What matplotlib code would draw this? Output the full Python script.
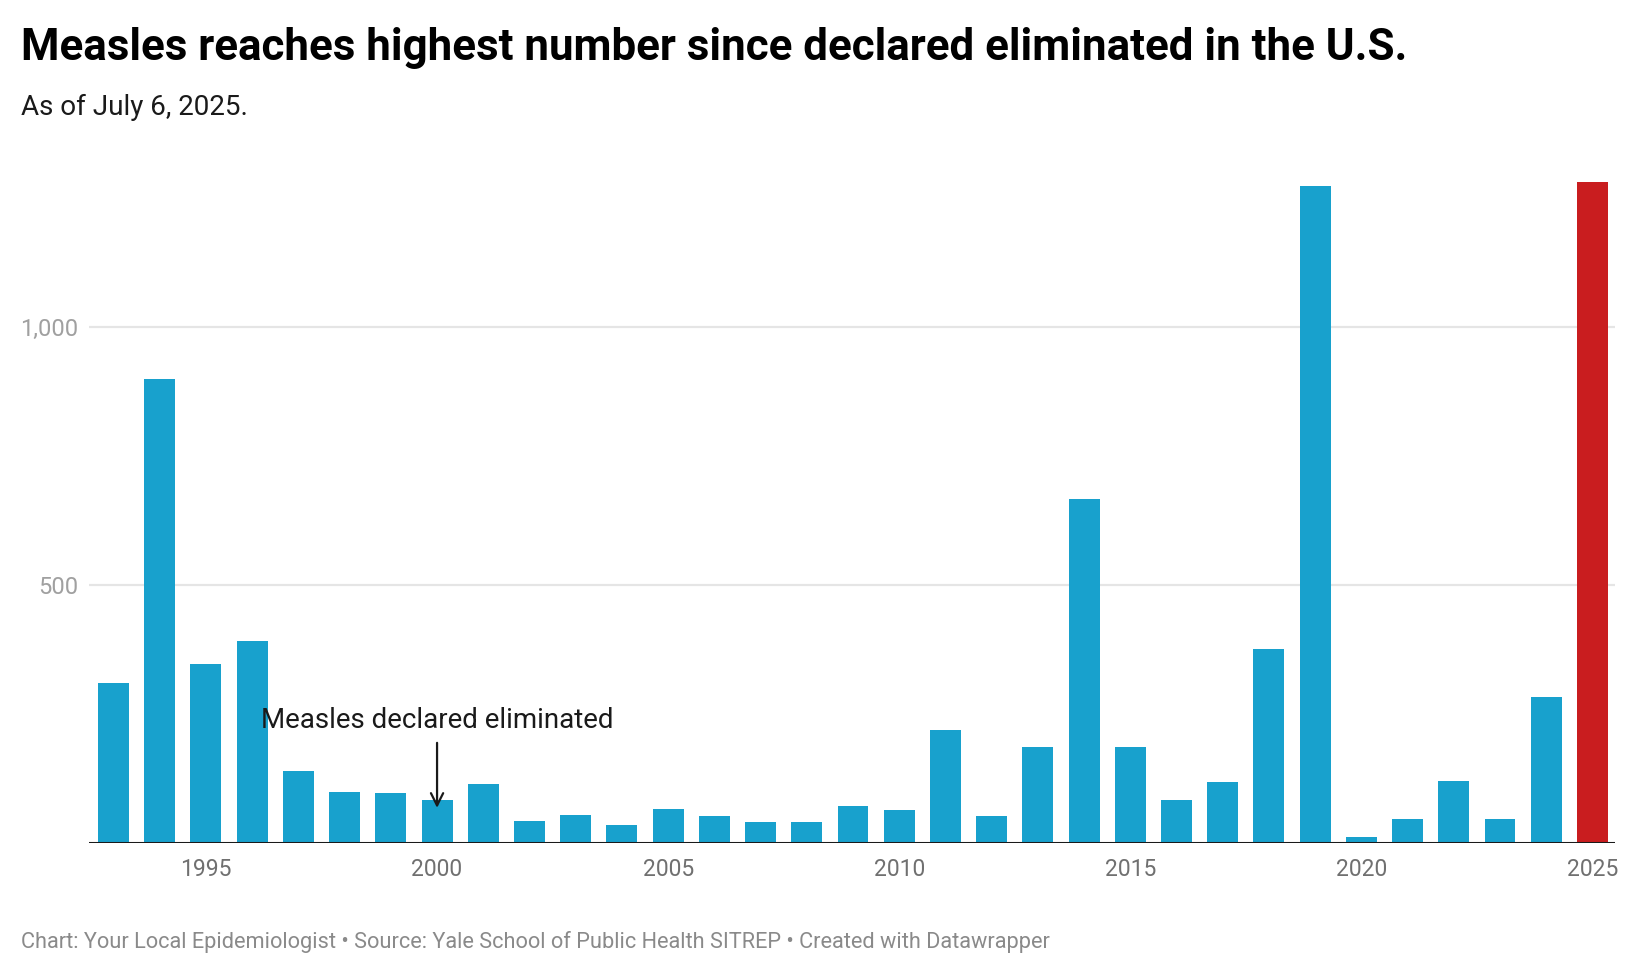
import numpy as np
import matplotlib
matplotlib.use("Agg")
import matplotlib.pyplot as plt

plt.rcParams['font.family'] = ['Roboto', 'DejaVu Sans']

# measles cases per year
years = list(range(1993, 2026))
cases = [310, 899, 347, 391, 139, 99, 97, 83, 114, 43, 54, 35, 65, 53, 41, 41,
         71, 63, 219, 53, 186, 667, 186, 83, 118, 375, 1273, 12, 47, 120, 47,
         283, 1281]
highlight_year = 2025
xtick_years = [1995, 2000, 2005, 2010, 2015, 2020, 2025]
ytick_vals = [500, 1000]
ytick_labels = ['500', '1,000']

COL_BAR = '#18a1cd'
COL_HI = '#c91d1f'

fig = plt.figure(figsize=(16.4, 9.76), dpi=100)
ax = fig.add_axes([0.0543, 0.1363, 0.9305, 0.6875])

colors = [COL_HI if y == highlight_year else COL_BAR for y in years]
ax.bar(years, cases, width=0.67, color=colors, zorder=2)

ax.set_xlim(1992.47, 2025.49)
ax.set_ylim(0, 1300)

for v in ytick_vals:
    ax.axhline(v, color='#e5e5e5', lw=1.6, zorder=1)
ax.axhline(0, color='#1a1a1a', lw=2.2, zorder=3)

ax.set_yticks(ytick_vals)
ax.set_yticklabels(ytick_labels)
ax.set_xticks(xtick_years)
ax.set_xticklabels([str(y) for y in xtick_years])
ax.tick_params(axis='y', length=0, pad=8, labelsize=17, labelcolor='#a0a0a0')
ax.tick_params(axis='x', length=0, pad=11, labelsize=16.5, labelcolor='#707070')

for s in ax.spines.values():
    s.set_visible(False)

# annotation
ax.text(2000, 223, 'Measles declared eliminated', ha='center', va='baseline',
        fontsize=20, color='#1a1a1a')
ax.annotate('', xy=(2000, 68), xytext=(2000, 194),
            arrowprops=dict(arrowstyle='->', color='#1a1a1a', lw=1.6,
                            shrinkA=0, shrinkB=0, mutation_scale=22))

fig.text(0.0128, 0.9385, 'Measles reaches highest number since declared eliminated in the U.S.',
         fontsize=31.6, fontweight='bold', color='#000000', va='baseline')
fig.text(0.0128, 0.8822, 'As of July 6, 2025.', fontsize=20, color='#1a1a1a', va='baseline')
fig.text(0.0128, 0.0287,
         'Chart: Your Local Epidemiologist \u2022 Source: Yale School of Public Health SITREP \u2022 Created with Datawrapper',
         fontsize=15.7, color='#8a8a8a', va='baseline')

fig.savefig('out.png', dpi=100)
